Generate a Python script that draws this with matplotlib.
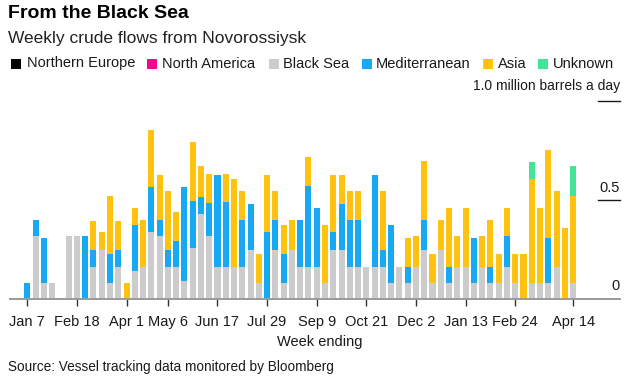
"""
Weekly crude flows from Novorossiysk, stacked by destination.
"""

import matplotlib.pyplot as plt
from matplotlib.patches import Rectangle
from matplotlib.transforms import blended_transform_factory
import numpy as np
import pandas as pd

plt.rcParams['font.family'] = ['Liberation Sans', 'DejaVu Sans']

# Week ending dates (Sundays), Jan 7 2018 .. Apr 14 2019
weeks = pd.date_range('2018-01-07', '2019-04-14', freq='7D')

# million barrels a day
black_sea = [0, 0.32, 0.08, 0.08, 0, 0.32, 0.32, 0, 0.165, 0.25,
             0.082, 0.165, 0, 0.145, 0.165, 0.337, 0.317, 0.165, 0.165, 0.093,
             0.26, 0.43, 0.317, 0.165, 0.165, 0.165, 0.165, 0.25, 0.082, 0,
             0.25, 0.082, 0.25, 0.165, 0.165, 0.165, 0.082, 0.25, 0.25, 0.165,
             0.165, 0.165, 0.165, 0.165, 0.082, 0.165, 0.082, 0.165, 0.25, 0.082,
             0.25, 0.082, 0.165, 0.165, 0.082, 0.165, 0.082, 0.082, 0.165, 0.082,
             0, 0.082, 0.082, 0.082, 0.165, 0, 0.082]
mediterranean = [0.08, 0.08, 0.23, 0, 0, 0, 0, 0.32, 0.083, 0,
                 0.146, 0.083, 0, 0.23, 0, 0.227, 0.08, 0.083, 0.13, 0.47,
                 0.237, 0.087, 0.17, 0.463, 0.323, 0, 0.232, 0.232, 0, 0.337,
                 0.148, 0.146, 0, 0.232, 0.404, 0.296, 0, 0.087, 0.232, 0.232,
                 0.232, 0, 0.463, 0.083, 0.293, 0, 0.083, 0, 0.148, 0,
                 0, 0.083, 0, 0, 0.228, 0, 0.083, 0, 0.152, 0,
                 0, 0, 0, 0.228, 0, 0, 0]
asia = [0, 0, 0, 0, 0, 0, 0, 0, 0.148, 0.087,
        0.29, 0.148, 0.082, 0.086, 0.232, 0.29, 0.23, 0.295, 0.145, 0,
        0.296, 0.155, 0.145, 0, 0.145, 0.443, 0.146, 0, 0.146, 0.29,
        0.146, 0.146, 0.148, 0, 0.146, 0, 0.293, 0.29, 0.146, 0.146,
        0.146, 0, 0, 0.295, 0, 0, 0.146, 0.152, 0.296, 0.146,
        0.148, 0.296, 0.152, 0.296, 0, 0.152, 0.232, 0.146, 0.145, 0.146,
        0.229, 0.525, 0.379, 0.443, 0.379, 0.357, 0.44]
unknown = [0] * 61 + [0.082, 0, 0, 0, 0, 0.148]

tick_dates = ['2018-01-07', '2018-02-18', '2018-04-01', '2018-05-06',
              '2018-06-17', '2018-07-29', '2018-09-09', '2018-10-21',
              '2018-12-02', '2019-01-13', '2019-02-24', '2019-04-14']
tick_labels = ['Jan 7', 'Feb 18', 'Apr 1', 'May 6', 'Jun 17', 'Jul 29',
               'Sep 9', 'Oct 21', 'Dec 2', 'Jan 13', 'Feb 24', 'Apr 14']

legend_names = ['Northern Europe', 'North America', 'Black Sea',
                'Mediterranean', 'Asia', 'Unknown']
legend_colors = ['#000000', '#f2088c', '#cccccc', '#18a9f5', '#ffc20e', '#41e597']

W, H = 638, 386


def fx(px):
    return px / W


def fy(py):
    return 1 - py / H


fig = plt.figure(figsize=(W / 100, H / 100), dpi=100)

# plot area: baseline at y=299.3px, 1.0 at y=100.7px
ax = fig.add_axes([fx(10), fy(299.3), fx(620) - fx(10), (299.3 - 100.7) / H])

x = np.arange(len(weeks))
bottom = np.zeros(len(weeks))
series = [(black_sea, legend_colors[2]), (mediterranean, legend_colors[3]),
          (asia, legend_colors[4]), (unknown, legend_colors[5])]
for vals, col in series:
    vals = np.array(vals, dtype=float)
    ax.bar(x, vals, width=0.73, bottom=bottom, color=col, linewidth=0)
    bottom += vals

ax.set_xlim(-2.09, 71.67)
ax.set_ylim(0, 1.0)

for s in ['top', 'right', 'left']:
    ax.spines[s].set_visible(False)
ax.spines['bottom'].set_color('#9a9a9a')
ax.spines['bottom'].set_linewidth(1.4)
ax.set_yticks([])

tick_pos = weeks.get_indexer(pd.to_datetime(tick_dates))
ax.set_xticks(tick_pos)
ax.set_xticklabels(tick_labels)
ax.tick_params(axis='x', length=5, width=1, color='#333333', pad=6.5,
               labelsize=10.5, labelcolor='#1a1a1a')

# right-hand value labels with short rules
tr = blended_transform_factory(ax.transAxes, ax.transData)
ax.text(1.0, 1.074, '1.0 million barrels a day', transform=tr, ha='right',
        va='center', fontsize=10, color='#1a1a1a')
ax.text(1.0, 0.562, '0.5', transform=tr, ha='right', va='center',
        fontsize=10.5, color='#1a1a1a')
ax.text(1.0, 0.068, '0', transform=tr, ha='right', va='center',
        fontsize=10.5, color='#1a1a1a')
for yv in [1.0, 0.5]:
    ax.plot([0.964, 1.0], [yv, yv], transform=tr, color='#1a1a1a', lw=1,
            clip_on=False)

# titles
fig.text(fx(8), fy(14), 'From the Black Sea', fontsize=14, fontweight='bold',
         ha='left', va='center', color='#000000')
fig.text(fx(8), fy(38), 'Weekly crude flows from Novorossiysk', fontsize=12.5,
         ha='left', va='center', color='#222222')

# legend
sq_x = [11, 147, 269, 362, 483, 538]
txt_x = [27, 162, 283, 376, 498, 553]
for name, col, sx, tx in zip(legend_names, legend_colors, sq_x, txt_x):
    fig.patches.append(Rectangle((fx(sx), fy(68.5)), fx(10), 10 / H,
                                 transform=fig.transFigure, color=col, lw=0))
    fig.text(fx(tx), fy(63.5), name, fontsize=10.5, ha='left', va='center',
             color='#1a1a1a')

fig.text(fx(320), fy(342), 'Week ending', fontsize=10.5, ha='center',
         va='center', color='#1a1a1a')
fig.text(fx(8), fy(367), 'Source: Vessel tracking data monitored by Bloomberg',
         fontsize=9.8, ha='left', va='center', color='#1a1a1a')

plt.savefig('out.png', dpi=100)
